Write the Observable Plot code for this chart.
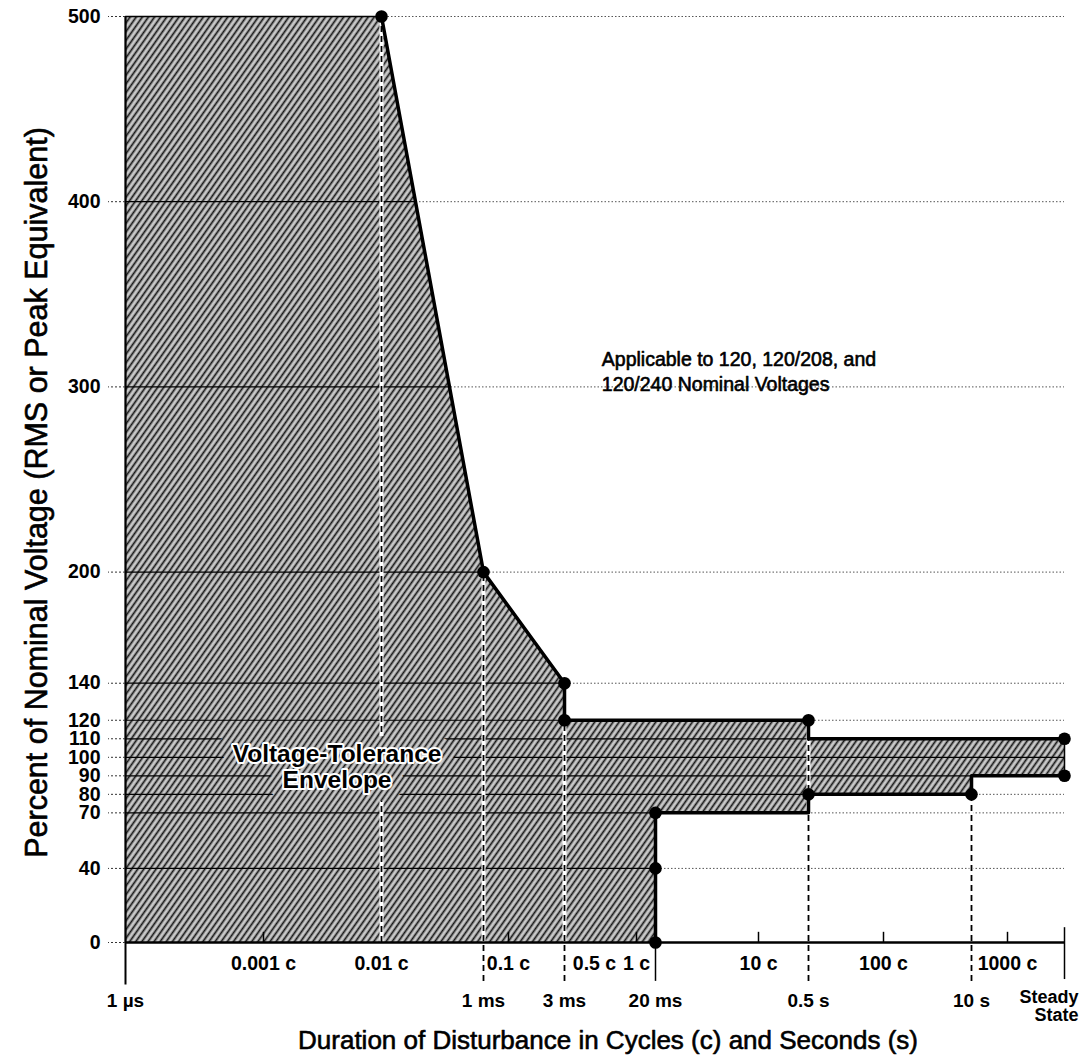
<!DOCTYPE html>
<html>
<head>
<meta charset="utf-8">
<script src="https://cdn.jsdelivr.net/npm/d3@7"></script>
<script src="https://cdn.jsdelivr.net/npm/@observablehq/plot@0.6"></script>
<style>
  html, body { margin: 0; padding: 0; background: #fff; }
  #chart svg { display: block; }
</style>
</head>
<body>
<div id="chart"></div>
<script>
// ---------- data ----------
const CYCLE = 1 / 60;   // one 60 Hz cycle, seconds
const START = 1e-6;     // 1 µs
const STEADY = 100;     // notional duration standing for "Steady State"

const yTicks = [0, 40, 70, 80, 90, 100, 110, 120, 140, 200, 300, 400, 500];
const gridValues = [40, 70, 80, 90, 100, 110, 120, 140, 200, 300, 400, 500];

// upper (overvoltage) boundary
const upperT = [0.01 * CYCLE, 0.001, 0.003, 0.003, 0.5, 0.5, STEADY];
const upperV = [500, 200, 140, 120, 120, 110, 110];
// lower (undervoltage) boundary
const lowerT = [0.02, 0.02, 0.5, 0.5, 10, 10, STEADY];
const lowerV = [0, 70, 70, 80, 80, 90, 90];
// marked points
const upperDotT = [0.01 * CYCLE, 0.001, 0.003, 0.003, 0.5, STEADY];
const upperDotV = [500, 200, 140, 120, 120, 110];
const lowerDotT = [0.02, 0.02, 0.02, 0.5, 10, STEADY];
const lowerDotV = [0, 40, 70, 80, 80, 90];

// x axis labels
const cycleTicks = [0.001, 0.1, 1, 10, 100, 1000];
const cycleLabels = [0.001, 0.01, 0.1, 0.5, 1, 10, 100, 1000];
const timeLabelT = [1e-6, 0.001, 0.003, 0.02, 0.5, 10];
const timeLabels = ["1 µs", "1 ms", "3 ms", "20 ms", "0.5 s", "10 s"];

// dashed duration markers
const markerT = [0.01 * CYCLE, 0.001, 0.003, 0.5, 10];
const markerTop = [500, 200, 120, 120, 80];
const markerBottom = [0, -21, -21, -21, -21];

const xTitle = "Duration of Disturbance in Cycles (c) and Seconds (s)";
const yTitle = "Percent of Nominal Voltage (RMS or Peak Equivalent)";
const envText = "Voltage-Tolerance\nEnvelope";
const noteText = "Applicable to 120, 120/208, and\n120/240 Nominal Voltages";

// ---------- derived tables ----------
const pts = (T, V) => T.map((t, i) => ({t, v: V[i]}));
const upper = pts(upperT, upperV);
const lower = pts(lowerT, lowerV);
const envelope = [{t: START, v: 0}, {t: START, v: 500}, ...upper, ...lower.slice().reverse()];
const markers = markerT.map((t, i) => ({t, top: markerTop[i], bottom: markerBottom[i]}));
const timeLab = timeLabelT.map((t, i) => ({t, label: timeLabels[i]}));

// non-uniform duration axis (piecewise logarithmic), as printed
const xStops = [
  [START, 125], [0.001 * CYCLE, 263], [0.01 * CYCLE, 381], [0.001, 483], [0.1 * CYCLE, 508],
  [0.003, 564], [0.5 * CYCLE, 594], [CYCLE, 636], [0.02, 655], [10 * CYCLE, 758],
  [0.5, 808], [100 * CYCLE, 883], [10, 971], [1000 * CYCLE, 1007], [STEADY, 1064]
];

const FONT = "'Liberation Sans', Arial, Helvetica, sans-serif";
const ENV_STROKE = "#020202";
const INNER_GRID = "#010101";

const plot = Plot.plot({
  width: 1083,
  height: 1061,
  marginLeft: 125,
  marginRight: 19,
  marginTop: 16,
  marginBottom: 119,
  style: {fontFamily: FONT, background: "#fff", color: "#000", overflow: "visible"},
  x: {type: "log", domain: xStops.map(d => d[0]), range: xStops.map(d => d[1]), axis: null},
  y: {domain: [0, 500]},
  marks: [
    Plot.ruleY(gridValues, {x1: START, x2: STEADY, stroke: "#555", strokeWidth: 1, strokeDasharray: "1.5,2"}),
    Plot.line(envelope, {x: "t", y: "v", fill: "url(#stipple)", stroke: ENV_STROKE, strokeWidth: 1.5}),
    Plot.ruleY(gridValues, {x1: START, x2: STEADY, stroke: INNER_GRID, strokeWidth: 1.2}),
    Plot.ruleX(markers, {x: "t", y1: "bottom", y2: "top", stroke: "#fff", strokeWidth: 4}),
    Plot.ruleX(markers, {x: "t", y1: "bottom", y2: "top", stroke: "#000", strokeWidth: 1.8, strokeDasharray: "6,4"}),
    Plot.text([envText], {x: 7e-5, y: 95, text: d => d, fontSize: 24.5, fontWeight: "bold", lineHeight: 1.08,
      fill: "url(#stipple)", stroke: "url(#stipple)", strokeWidth: 26, strokeLinejoin: "round"}),
    Plot.text([envText], {x: 7e-5, y: 95, text: d => d, fontSize: 24.5, fontWeight: "bold", lineHeight: 1.08,
      fill: "#000", stroke: "#fff", strokeWidth: 4, strokeLinejoin: "round", paintOrder: "stroke"}),
    Plot.ruleY([0], {x1: START, x2: STEADY, stroke: "#000", strokeWidth: 2.5}),
    Plot.ruleX([START], {y1: -23, y2: 500, stroke: "#000", strokeWidth: 2}),
    Plot.ruleX([0.02], {y1: -21, y2: 0, stroke: "#000", strokeWidth: 1.5}),
    Plot.ruleX([STEADY], {y1: -20, y2: 8, stroke: "#000", strokeWidth: 1.5}),
    Plot.ruleX(cycleTicks, {x: d => d * CYCLE, y1: 0, y2: 5.5, stroke: "#000", strokeWidth: 1.5}),
    Plot.line(upper, {x: "t", y: "v", stroke: "#000", strokeWidth: 3.5, strokeLinejoin: "round"}),
    Plot.line(lower, {x: "t", y: "v", stroke: "#000", strokeWidth: 3.5, strokeLinejoin: "round"}),
    Plot.dot(pts(upperDotT, upperDotV), {x: "t", y: "v", r: 6.3, fill: "#000", stroke: null}),
    Plot.dot(pts(lowerDotT, lowerDotV), {x: "t", y: "v", r: 6.3, fill: "#000", stroke: null}),
    Plot.text(cycleLabels, {x: d => d * CYCLE, y: 0, dy: 21, text: d => `${d} c`, fontSize: 19.5, fontWeight: "bold", lineAnchor: "middle"}),
    Plot.text(timeLab, {x: "t", y: 0, dy: 58, text: "label", fontSize: 19, fontWeight: "bold", lineAnchor: "middle"}),
    Plot.text(["Steady\nState"], {x: STEADY, y: 0, dy: 64, dx: 14, text: d => d, textAnchor: "end", fontSize: 18, fontWeight: "bold", lineHeight: 0.95, lineAnchor: "middle"}),
    Plot.text([noteText], {x: 9.4e-3, y: 309, text: d => d, textAnchor: "start", fontSize: 19.5, lineHeight: 1.33, lineAnchor: "middle", fill: "#000", stroke: "#000", strokeWidth: 0.6}),
    Plot.axisY(yTicks, {anchor: "left", tickSize: 17, tickPadding: 8, fontSize: 19.5, fontWeight: "bold", strokeDasharray: "2,2", stroke: "#333", label: null}),
    Plot.text([yTitle], {frameAnchor: "left", rotate: -90, textAnchor: "middle", dx: -88, dy: 13, text: d => d, fontSize: 30.5, lineAnchor: "middle", fill: "#000", stroke: "#000", strokeWidth: 0.6}),
    Plot.text([xTitle], {frameAnchor: "bottom", textAnchor: "middle", dx: 13, dy: 98, text: d => d, fontSize: 26, lineAnchor: "middle", fill: "#000", stroke: "#000", strokeWidth: 0.6})
  ]
});

document.getElementById("chart").appendChild(plot);

// texture + clip for the envelope
try {
  const svg = d3.select(plot);
  const defs = svg.insert("defs", ":first-child");
  defs.html(`
    <pattern id="stipple" width="5" height="5" patternUnits="userSpaceOnUse" patternTransform="rotate(-55)">
      <rect width="5" height="5" fill="#969696"></rect>
      <rect y="0" width="5" height="1.25" fill="#161616"></rect>
      <rect y="2.5" width="5" height="1.1" fill="#f2f2f2"></rect>
    </pattern>`);
  const groups = Array.from(plot.querySelectorAll("g"));
  const envG = groups.find(g => (g.getAttribute("stroke") || "").toLowerCase() === ENV_STROKE && g.querySelector("path"));
  const inner = groups.find(g => (g.getAttribute("stroke") || "").toLowerCase() === INNER_GRID);
  if (envG && inner) {
    const envPath = envG.querySelector("path");
    const clip = defs.append("clipPath").attr("id", "envclip");
    clip.append("path").attr("d", envPath.getAttribute("d")).attr("transform", envG.getAttribute("transform"));
    inner.setAttribute("clip-path", "url(#envclip)");
  }
} catch (e) { console.error(e); }
</script>
</body>
</html>
